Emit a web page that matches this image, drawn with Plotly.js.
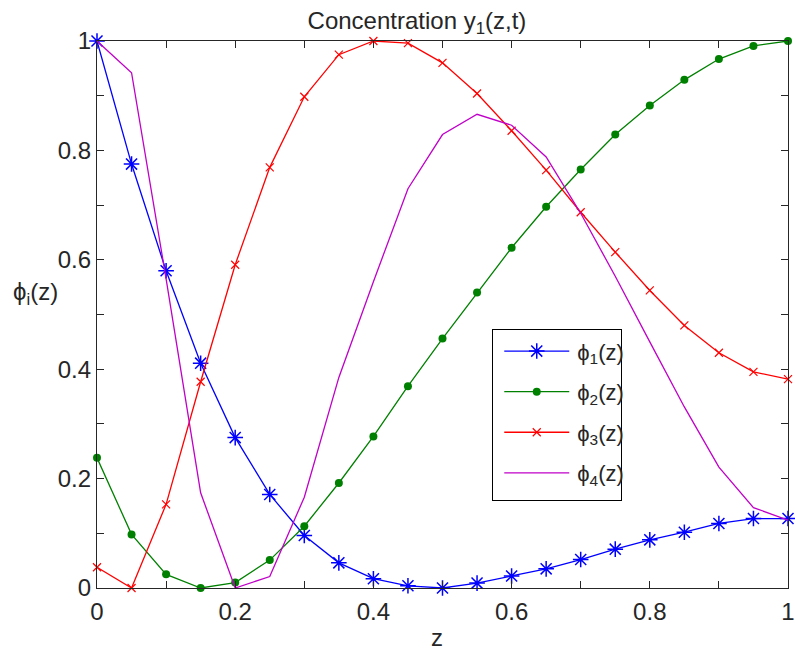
<!DOCTYPE html>
<html>
<head>
<meta charset="utf-8">
<script src="https://cdn.plot.ly/plotly-3.0.1.min.js"></script>
<style>html,body{margin:0;padding:0;background:#fff;}#chart{width:795px;height:650px;}</style>
</head>
<body>
<div id="chart"></div>
<script>
// z grid points
var z = [0, 0.05, 0.1, 0.15, 0.2, 0.25, 0.3, 0.35, 0.4, 0.45, 0.5, 0.55, 0.6, 0.65, 0.7, 0.75, 0.8, 0.85, 0.9, 0.95, 1.0];
// series values
var phi1 = [1.0, 0.775, 0.580, 0.411, 0.275, 0.171, 0.096, 0.046, 0.017, 0.004, 0.0, 0.009, 0.022, 0.035, 0.052, 0.071, 0.088, 0.102, 0.118, 0.127, 0.127];
var phi2 = [0.238, 0.098, 0.025, 0.0, 0.010, 0.051, 0.113, 0.192, 0.277, 0.369, 0.456, 0.540, 0.622, 0.697, 0.765, 0.829, 0.882, 0.929, 0.967, 0.991, 1.0];
var phi3 = [0.038, 0.0, 0.153, 0.377, 0.591, 0.769, 0.898, 0.975, 1.0, 0.996, 0.960, 0.904, 0.836, 0.764, 0.687, 0.614, 0.544, 0.480, 0.430, 0.395, 0.382];
var phi4 = [1.0, 0.942, 0.565, 0.174, 0.0, 0.021, 0.166, 0.385, 0.560, 0.730, 0.829, 0.866, 0.846, 0.788, 0.685, 0.570, 0.450, 0.331, 0.221, 0.147, 0.124];
var seriesNames = ["ϕ<sub>1</sub>(z)", "ϕ<sub>2</sub>(z)", "ϕ<sub>3</sub>(z)", "ϕ<sub>4</sub>(z)"];
// tick labels and positions
var tickVals = [0, 0.2, 0.4, 0.6, 0.8, 1];
var tickText = ["0", "0.2", "0.4", "0.6", "0.8", "1"];
var minorTickVals = [0.1, 0.3, 0.5, 0.7, 0.9];
var titleText = "Concentration y<sub>1</sub>(z,t)";
var xLabel = "z";
var yLabel = "ϕ<sub>i</sub>(z)";

var FONT = "Arial, 'Liberation Sans', sans-serif";
var traces = [
  {x: z, y: phi1, name: seriesNames[0], mode: "lines+markers", legendgroup: "a",
   line: {color: "#0000ff", width: 1.3},
   marker: {symbol: "asterisk-open", size: 13, color: "#0000ff", line: {color: "#0000ff", width: 1.5}}, cliponaxis: false},
  {x: z, y: phi2, name: seriesNames[1], mode: "lines+markers", legendgroup: "b",
   line: {color: "#008000", width: 1.3},
   marker: {symbol: "circle", size: 8, color: "#008000"}, cliponaxis: false},
  {x: z, y: phi3, name: seriesNames[2], mode: "lines+markers", legendgroup: "c",
   line: {color: "#ff0000", width: 1.3},
   marker: {symbol: "x-thin-open", size: 8, color: "#ff0000", line: {color: "#ff0000", width: 1.2}}, cliponaxis: false},
  {x: z, y: phi4, name: seriesNames[3], mode: "lines", legendgroup: "d",
   line: {color: "#c000c8", width: 1.3}, cliponaxis: false}
];

var axisCommon = {
  range: [0, 1], tickmode: "array", tickvals: tickVals, ticktext: tickText,
  ticks: "inside", ticklen: 7, tickwidth: 1, tickcolor: "#262626",
  minor: {tickmode: "array", tickvals: minorTickVals, ticks: "inside", ticklen: 7, tickwidth: 1, tickcolor: "#262626", showgrid: false},
  showline: true, linecolor: "#262626", linewidth: 1.2, mirror: "ticks",
  showgrid: false, zeroline: false, fixedrange: true,
  tickfont: {family: FONT, size: 24, color: "#262626"}
};

var layout = {
  width: 795, height: 650,
  margin: {l: 96.5, r: 7, t: 41, b: 62},
  paper_bgcolor: "#fff", plot_bgcolor: "#fff",
  font: {family: FONT, color: "#262626"},
  title: {text: titleText, font: {family: FONT, size: 24, color: "#262626"},
          x: 0.463, xref: "paper", xanchor: "center", y: 0.968, yref: "container", yanchor: "middle"},
  xaxis: Object.assign({}, axisCommon, {ticklabelstandoff: 2}),
  yaxis: Object.assign({}, axisCommon, {ticklabelstandoff: 0}),
  showlegend: true,
  legend: {x: 0.572, y: 0.473, xanchor: "left", yanchor: "top",
           bordercolor: "#000", borderwidth: 1, bgcolor: "#fff",
           font: {family: FONT, size: 22, color: "#262626"},
           tracegroupgap: 9, itemwidth: 74},
  annotations: [
    {text: yLabel, xref: "paper", yref: "paper", x: -0.0897, y: 0.539, showarrow: false,
     xanchor: "center", yanchor: "middle", font: {family: FONT, size: 24, color: "#262626"}},
    {text: xLabel, xref: "paper", yref: "paper", x: 0.492, y: -0.0896, showarrow: false,
     xanchor: "center", yanchor: "middle", font: {family: FONT, size: 24, color: "#262626"}}
  ]
};

Plotly.newPlot("chart", traces, layout, {displayModeBar: false, staticPlot: true}).then(function (gd) {
  // lengthen legend line samples and centre their markers, like the reference legend
  var lines = gd.querySelectorAll(".legend .legendlines path");
  lines.forEach(function (p) { p.setAttribute("d", "M11,0h65"); });
  var pts = gd.querySelectorAll(".legend .legendpoints path");
  pts.forEach(function (p) {
    var t = p.getAttribute("transform") || "";
    p.setAttribute("transform", t.replace(/translate\(\s*[-\d.]+\s*,/, "translate(43.5,"));
  });
  // fit the legend frame to the reference proportions
  var bg = gd.querySelector(".legend rect.bg");
  if (bg) {
    var w = parseFloat(bg.getAttribute("width"));
    var h = parseFloat(bg.getAttribute("height"));
    if (isFinite(w)) bg.setAttribute("width", w - 8);
    if (isFinite(h)) bg.setAttribute("height", h + 6);
  }
});
</script>
</body>
</html>
